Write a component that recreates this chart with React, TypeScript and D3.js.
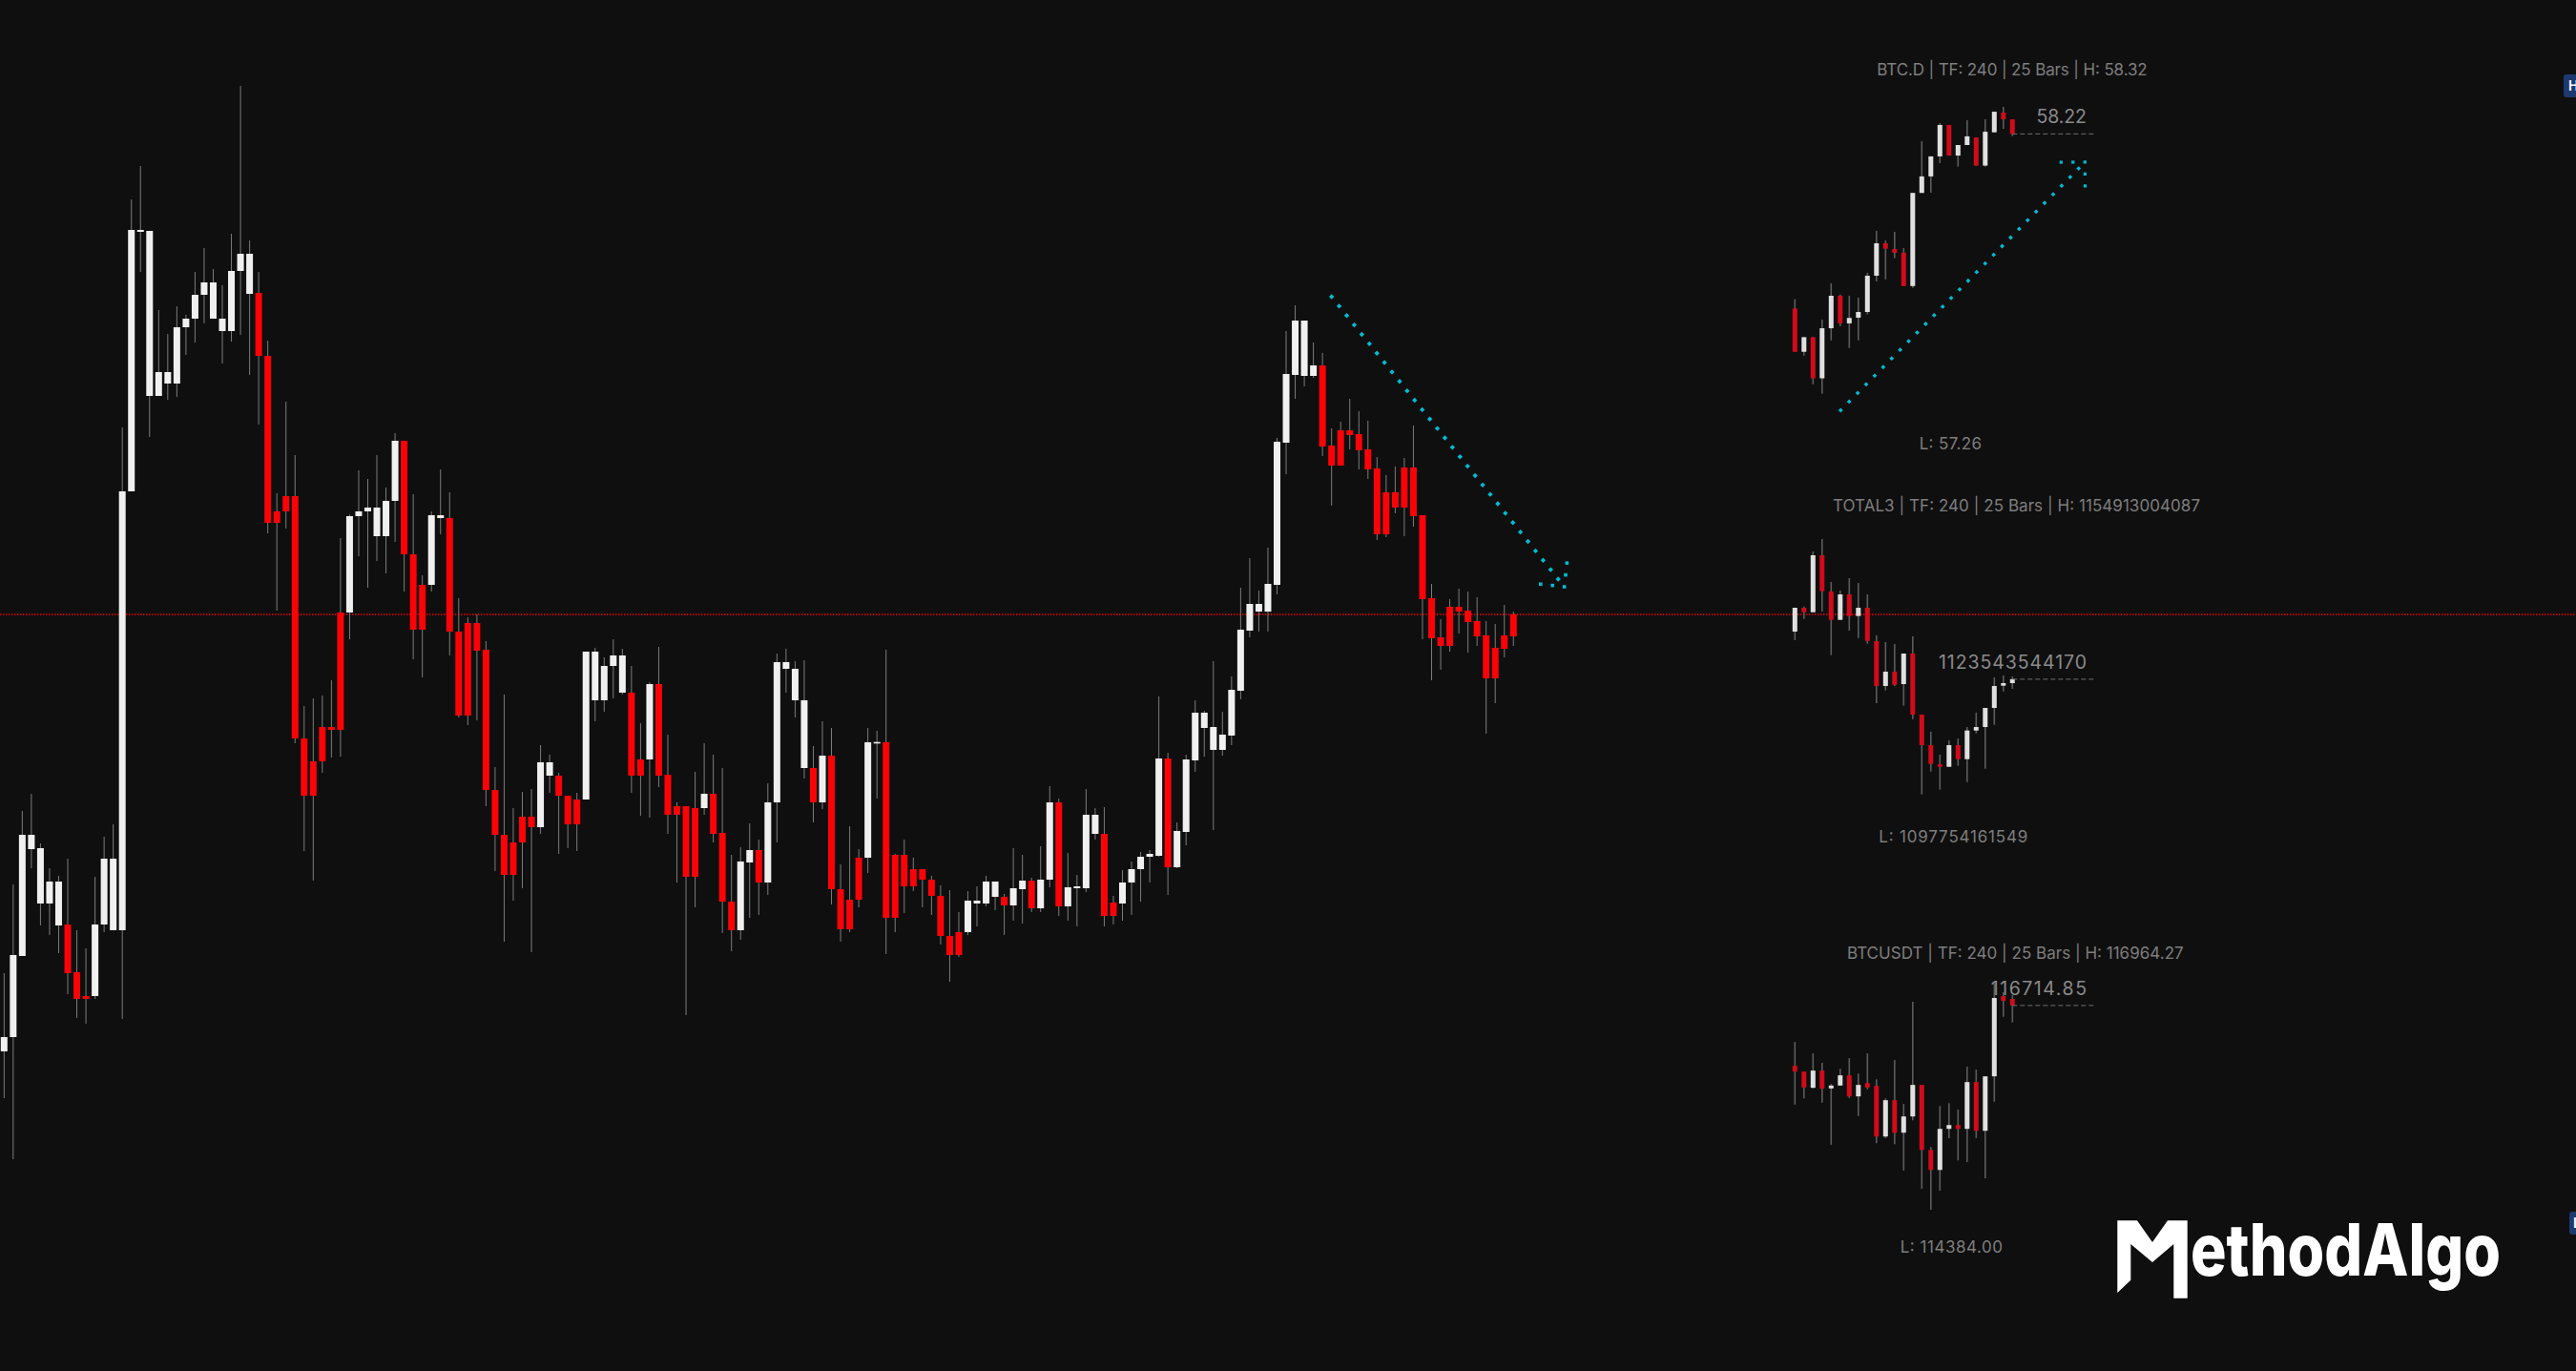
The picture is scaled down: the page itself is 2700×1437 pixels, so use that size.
import React from "react";
import * as d3 from "d3";

// ---------------- main chart data (arbitrary price units) ----------------
const mainOpen = [
  198, 213, 298, 410, 353, 353, 330, 331, 281, 256,
  256, 331, 325, 325, 785, 1057, 885, 885, 898, 898,
  957, 966, 991, 966, 953, 953, 1016, 992, 993, 927,
  764, 780, 780, 526, 502, 538, 538, 658, 658, 759,
  764, 738, 738, 775, 838, 719, 687, 687, 757, 757,
  638, 647, 647, 619, 472, 425, 417, 444, 444, 433,
  487, 487, 466, 462, 462, 566, 566, 602, 574, 574,
  504, 504, 583, 488, 455, 455, 453, 453, 468, 427,
  355, 325, 396, 409, 375, 459, 599, 566, 495, 495,
  459, 508, 368, 357, 401, 401, 521, 522, 404, 404,
  389, 389, 378, 361, 319, 323, 323, 353, 353, 360,
  360, 351, 368, 377, 348, 378, 459, 350, 369, 369,
  426, 426, 354, 353, 375, 389, 402, 403, 505, 391,
  428, 503, 537, 514, 514, 529, 576, 639, 659, 659,
  687, 836, 907, 906, 906, 917, 833, 849, 849, 845,
  829, 809, 784, 784, 810, 810, 760, 673, 632, 664,
  664, 660, 649, 634, 621, 634, 656,
];
const mainHigh = [
  280, 373, 450, 468, 416, 390, 382, 400, 325, 306,
  381, 423, 436, 852, 1091, 1126, 1058, 975, 950, 979,
  970, 1015, 1040, 1018, 1001, 1055, 1210, 1048, 1015, 943,
  783, 879, 823, 560, 568, 571, 587, 736, 761, 807,
  798, 823, 789, 846, 838, 782, 697, 764, 808, 784,
  673, 653, 656, 628, 496, 572, 453, 470, 473, 519,
  509, 490, 466, 469, 617, 621, 611, 630, 620, 602,
  542, 585, 622, 530, 459, 455, 491, 521, 509, 495,
  404, 412, 437, 420, 479, 615, 620, 607, 608, 518,
  544, 537, 394, 434, 410, 537, 534, 619, 405, 420,
  401, 389, 382, 372, 367, 344, 366, 371, 382, 376,
  363, 411, 404, 380, 413, 476, 463, 406, 383, 473,
  453, 454, 361, 388, 397, 407, 409, 570, 511, 438,
  509, 566, 555, 607, 554, 591, 684, 715, 681, 726,
  841, 953, 980, 964, 941, 930, 851, 858, 882, 869,
  859, 821, 802, 811, 820, 854, 760, 688, 651, 672,
  683, 680, 674, 649, 646, 666, 659,
];
const mainLow = [
  149, 85, 298, 390, 330, 320, 301, 258, 233, 227,
  253, 323, 325, 232, 785, 1015, 842, 885, 881, 884,
  928, 941, 961, 966, 919, 942, 949, 907, 855, 741,
  660, 746, 521, 408, 377, 490, 506, 507, 630, 717,
  684, 712, 699, 732, 680, 609, 590, 680, 740, 613,
  548, 540, 545, 455, 387, 313, 356, 369, 302, 426,
  469, 405, 411, 408, 462, 544, 554, 568, 572, 469,
  445, 443, 475, 426, 375, 236, 349, 446, 417, 322,
  303, 315, 338, 341, 362, 417, 574, 548, 484, 438,
  452, 352, 313, 323, 349, 385, 463, 300, 323, 343,
  366, 349, 341, 310, 271, 297, 320, 329, 350, 346,
  320, 335, 332, 344, 344, 370, 340, 335, 329, 365,
  420, 329, 331, 335, 341, 355, 375, 402, 362, 390,
  414, 491, 507, 430, 508, 519, 567, 632, 638, 638,
  677, 803, 882, 895, 904, 822, 770, 812, 829, 808,
  798, 734, 737, 762, 738, 748, 630, 587, 598, 617,
  636, 616, 623, 531, 563, 611, 623,
];
const mainClose = [
  213, 299, 425, 425, 411, 376, 376, 280, 253, 253,
  331, 400, 400, 785, 1059, 1059, 1058, 910, 910, 957,
  966, 991, 1004, 1004, 966, 1016, 1034, 1034, 927, 752,
  752, 764, 526, 466, 466, 502, 535, 535, 759, 764,
  768, 768, 775, 838, 719, 640, 640, 760, 760, 638,
  550, 550, 618, 472, 425, 383, 383, 417, 433, 501,
  501, 466, 436, 436, 617, 617, 602, 613, 613, 487,
  487, 583, 487, 446, 446, 381, 381, 468, 426, 355,
  325, 397, 409, 375, 459, 606, 606, 599, 566, 459,
  508, 368, 326, 326, 357, 522, 522, 338, 338, 371,
  371, 378, 361, 319, 299, 299, 356, 356, 376, 376,
  351, 369, 377, 348, 378, 459, 350, 370, 371, 446,
  446, 340, 340, 375, 389, 402, 405, 505, 391, 429,
  504, 553, 553, 538, 530, 577, 640, 667, 667, 688,
  837, 908, 964, 964, 917, 832, 812, 812, 844, 828,
  808, 740, 740, 768, 768, 759, 672, 631, 623, 623,
  659, 648, 633, 589, 589, 620, 633,
];
const mainRefLevel = 656;
const mainArrowStart = [146.0, 989];
const mainArrowEnd = [171.6, 685];

// ---------------- BTC.D ----------------
const btcdOpen = [57.575, 57.415, 57.469, 57.317, 57.502, 57.622, 57.52, 57.541, 57.562, 57.696, 57.816, 57.795, 57.781, 57.658, 58.002, 58.063, 58.137, 58.253, 58.14, 58.179, 58.207, 58.103, 58.226, 58.299, 58.274];
const btcdHigh = [57.61, 57.469, 57.469, 57.534, 57.668, 57.626, 57.622, 57.615, 57.707, 57.862, 57.826, 57.858, 57.798, 58.002, 58.193, 58.137, 58.26, 58.253, 58.179, 58.271, 58.207, 58.274, 58.302, 58.32, 58.274];
const btcdLow = [57.415, 57.401, 57.295, 57.26, 57.457, 57.509, 57.429, 57.457, 57.553, 57.675, 57.683, 57.761, 57.658, 57.651, 58.002, 58.003, 58.112, 58.14, 58.099, 58.179, 58.103, 58.099, 58.226, 58.239, 58.212];
const btcdClose = [57.415, 57.469, 57.317, 57.502, 57.622, 57.52, 57.54, 57.562, 57.696, 57.816, 57.796, 57.781, 57.658, 58.002, 58.063, 58.137, 58.253, 58.14, 58.179, 58.211, 58.103, 58.228, 58.302, 58.274, 58.22];
const btcdStats = [58.32, 57.26, 58.22]; // high, low, last
const btcdArrowStart = [5.05, 57.199];
const btcdArrowEnd = [32.0, 58.116];

// ---------------- TOTAL3 (billions) ----------------
const total3Open = [1134.199, 1139.538, 1138.541, 1151.283, 1143.168, 1136.833, 1142.527, 1137.687, 1139.538, 1132.064, 1122.027, 1125.23, 1122.454, 1129.288, 1115.62, 1108.787, 1104.516, 1103.947, 1108.787, 1105.655, 1112.062, 1112.844, 1117.115, 1122.098, 1122.668];
const total3High = [1139.538, 1139.822, 1152.137, 1154.913, 1145.303, 1143.382, 1146.158, 1145.09, 1142.527, 1133.345, 1131.85, 1131.423, 1129.288, 1133.131, 1115.62, 1111.777, 1106.652, 1109.855, 1110.282, 1112.844, 1116.047, 1117.115, 1123.949, 1124.376, 1124.162];
const total3Low = [1132.277, 1137.046, 1138.541, 1138.683, 1128.932, 1136.833, 1134.413, 1132.775, 1131.494, 1118.183, 1121.031, 1122.027, 1117.614, 1114.624, 1097.754, 1102.879, 1098.822, 1103.947, 1104.161, 1100.53, 1111.421, 1103.52, 1113.343, 1120.817, 1121.386];
const total3Close = [1139.538, 1138.541, 1151.283, 1143.239, 1136.833, 1142.527, 1137.687, 1139.538, 1132.135, 1122.027, 1125.23, 1122.312, 1129.288, 1115.62, 1108.787, 1104.588, 1103.947, 1108.787, 1105.655, 1112.062, 1112.844, 1117.115, 1122.027, 1122.668, 1123.544];
const total3Stats = [1154913004087, 1097754161549, 1123543544170];

// ---------------- BTCUSDT ----------------
const btcusdtOpen = [116026.65, 115961.23, 115775.89, 115972.13, 115768.62, 115801.33, 115917.62, 115677.76, 115830.4, 115797.69, 115219.85, 115634.15, 115263.46, 115448.81, 115808.59, 115067.22, 114838.26, 115307.07, 115350.69, 115307.07, 115841.3, 115285.27, 115906.72, 116822.54, 116789.83];
const btcusdtHigh = [116299.21, 115961.23, 116168.38, 116059.35, 115819.5, 115993.94, 116113.87, 115939.43, 116168.38, 115874.01, 115655.96, 116092.06, 115590.54, 116757.12, 115808.59, 115099.93, 115568.74, 115601.44, 115528.76, 116015.74, 115983.04, 115906.72, 116964.27, 116866.15, 116833.44];
const btcusdtLow = [115583.27, 115655.96, 115768.62, 115605.08, 115125.36, 115801.33, 115659.59, 115452.44, 115757.72, 115143.54, 115201.68, 115132.63, 114830.99, 115405.2, 114623.85, 114384.0, 114602.04, 115201.68, 114947.29, 114929.12, 115201.68, 114743.77, 115615.98, 116586.31, 116520.9];
const btcusdtClose = [115961.23, 115779.52, 115972.13, 115764.98, 115801.33, 115917.62, 115677.76, 115808.59, 115779.52, 115219.85, 115634.15, 115263.46, 115448.81, 115808.59, 115067.22, 114838.26, 115307.07, 115350.69, 115307.07, 115841.3, 115285.27, 115906.72, 116800.73, 116768.02, 116714.85];
const btcusdtStats = [116964.27, 114384.0, 116714.85];

const panelNames = ["BTC.D", "TOTAL3", "BTCUSDT"];
const panelTF = "240";
const panelBars = 25;
const logoText = "ethodAlgo";

// ---------------- styling ----------------
const W = 2700;
const H = 1437;
const BG = "#0f0f0f";
const MAIN_UP = "#f0f0f0";
const MAIN_DN = "#fb0207";
const MINI_UP = "#e0e0e0";
const MINI_DN = "#d20a1a";
const CYAN = "#00bcd4";
const FONT = "Inter, 'Noto Sans', sans-serif";

type Scale = (v: number) => number;

function candles(
  key: string,
  o: number[], h: number[], l: number[], c: number[],
  x: Scale, y: Scale, bw: number,
  upFill: string, dnFill: string, wickCol: string, wickW: number
) {
  return o.map((_, i) => {
    const up = c[i] >= o[i];
    const cx = x(i);
    const yo = y(o[i]);
    const yc = y(c[i]);
    let top = Math.min(yo, yc);
    let hgt = Math.abs(yo - yc);
    if (hgt < 1.6) {
      top = (yo + yc) / 2 - 0.8;
      hgt = 1.6;
    }
    return (
      <g key={key + i}>
        <line x1={cx} x2={cx} y1={y(h[i])} y2={y(l[i])} stroke={wickCol} strokeWidth={wickW} />
        <rect x={cx - bw / 2} y={top} width={bw} height={hgt} fill={up ? upFill : dnFill} />
      </g>
    );
  });
}

function dottedArrow(key: string, x0: number, y0: number, x1: number, y1: number, step: number, size: number) {
  const dx = x1 - x0;
  const dy = y1 - y0;
  const len = Math.hypot(dx, dy);
  const ux = dx / len;
  const uy = dy / len;
  const n = Math.floor((len - 4) / step);
  const marks: React.ReactNode[] = [];
  for (let k = 0; k <= n; k++) {
    const px = x0 + ux * step * k;
    const py = y0 + uy * step * k;
    marks.push(
      <rect key={key + "d" + k} x={px - size / 2} y={py - size / 2} width={size} height={size}
        fill={CYAN} transform={`rotate(45 ${px} ${py})`} />
    );
  }
  const bx = -ux;
  const by = -uy;
  const c = Math.SQRT1_2;
  const arms = [
    [c * bx - c * by, c * bx + c * by],
    [c * bx + c * by, -c * bx + c * by],
  ];
  const sq = size * 0.95;
  marks.push(<rect key={key + "tip"} x={x1 - sq / 2} y={y1 - sq / 2} width={sq} height={sq} fill={CYAN} />);
  arms.forEach((a, ai) => {
    [12.5, 25].forEach((d, di) => {
      const px = x1 + a[0] * d;
      const py = y1 + a[1] * d;
      marks.push(<rect key={key + "a" + ai + di} x={px - sq / 2} y={py - sq / 2} width={sq} height={sq} fill={CYAN} />);
    });
  });
  return marks;
}

type PanelLayout = {
  top: number; bottom: number; titleX: number; titleY: number; titleW: number;
  lowX: number; lowY: number; lowW: number; lastW: number;
};

function miniPanel(
  key: string, name: string,
  o: number[], h: number[], l: number[], c: number[],
  stats: number[], unit: number, fmt: (v: number) => string, lay: PanelLayout
) {
  const x = d3.scaleLinear().domain([0, panelBars - 1]).range([1881.3, 2109.3]);
  const y = d3.scaleLinear().domain([stats[1] / unit, stats[0] / unit]).range([lay.bottom, lay.top]);
  const lastY = y(stats[2] / unit);
  return (
    <g key={key}>
      <text x={lay.titleX} y={lay.titleY} textAnchor="middle" fontFamily={FONT} fontSize={17} fill="#7e7e7e"
        textLength={lay.titleW}>
        {`${name} | TF: ${panelTF} | ${panelBars} Bars | H: ${fmt(stats[0])}`}
      </text>
      {candles(key, o, h, l, c, x, y, 5, MINI_UP, MINI_DN, "#5c5c5c", 1.6)}
      <line x1={x(panelBars - 1)} x2={2195} y1={lastY} y2={lastY} stroke="#6e6e6e" strokeWidth={1} strokeDasharray="5 3" />
      <text x={2187} y={lastY - 11} textAnchor="end" fontFamily={FONT} fontSize={19.5} fill="#8a8a8a"
        textLength={lay.lastW}>
        {fmt(stats[2])}
      </text>
      <text x={lay.lowX} y={lay.lowY} textAnchor="middle" fontFamily={FONT} fontSize={17} fill="#7e7e7e"
        textLength={lay.lowW}>
        {`L: ${fmt(stats[1])}`}
      </text>
    </g>
  );
}

export default function App() {
  const mx = d3.scaleLinear().domain([0, mainOpen.length - 1]).range([4.3, 4.3 + 9.53 * (mainOpen.length - 1)]);
  const my = d3.scaleLinear().domain([0, 1300]).range([1300, 0]);

  const bx = d3.scaleLinear().domain([0, panelBars - 1]).range([1881.3, 2109.3]);
  const by = d3.scaleLinear().domain([btcdStats[1], btcdStats[0]]).range([412.7, 112]);

  const f2 = (v: number) => v.toFixed(2);
  const f0 = (v: number) => String(Math.round(v));

  const mPts: [number, number][] = [
    [2219.3, 1279.3], [2240, 1279.3], [2256, 1302], [2272, 1279.3], [2292.7, 1279.3],
    [2292.7, 1360.7], [2278.3, 1360.7], [2278.3, 1304], [2256, 1323], [2233.3, 1304],
    [2233.3, 1341.7], [2219.3, 1355],
  ];

  return (
    <svg width={W} height={H} style={{ position: "absolute", left: 0, top: 0, display: "block" }}>
      <rect x={0} y={0} width={W} height={H} fill={BG} />

      <line x1={0} x2={W} y1={my(mainRefLevel)} y2={my(mainRefLevel)} stroke="#ff0000" strokeWidth={1.4} strokeDasharray="1.4 1.6" />

      {candles("m", mainOpen, mainHigh, mainLow, mainClose, mx, my, 7, MAIN_UP, MAIN_DN, "#7c7c7c", 1)}

      {dottedArrow("ma", mx(mainArrowStart[0]), my(mainArrowStart[1]), mx(mainArrowEnd[0]), my(mainArrowEnd[1]), 12.65, 3.8)}

      {miniPanel("p0", panelNames[0], btcdOpen, btcdHigh, btcdLow, btcdClose, btcdStats, 1, f2,
        { top: 112, bottom: 412.7, titleX: 2109, titleY: 79.3, titleW: 283.4, lowX: 2044.3, lowY: 471, lowW: 65.3, lastW: 52.4 })}
      {dottedArrow("ba", bx(btcdArrowStart[0]), by(btcdArrowStart[1]), bx(btcdArrowEnd[0]), by(btcdArrowEnd[1]), 12.7, 3.4)}
      {miniPanel("p1", panelNames[1], total3Open, total3High, total3Low, total3Close, total3Stats, 1e9, f0,
        { top: 565, bottom: 832.7, titleX: 2113.5, titleY: 535.7, titleW: 385, lowX: 2047.3, lowY: 883.3, lowW: 156, lastW: 155 })}
      {miniPanel("p2", panelNames[2], btcusdtOpen, btcusdtHigh, btcusdtLow, btcusdtClose, btcusdtStats, 1, f2,
        { top: 1031, bottom: 1268, titleX: 2112.3, titleY: 1005, titleW: 352.7, lowX: 2045.3, lowY: 1312.7, lowW: 107.3, lastW: 100.3 })}

      <rect x={2687} y={78} width={24} height={24} rx={3} fill="#1d3a6e" />
      <text x={2692} y={95} fontFamily={FONT} fontSize={14} fontWeight={600} fill="#ffffff">H</text>
      <rect x={2693} y={1270} width={20} height={24} rx={3} fill="#1d3a6e" />
      <text x={2697} y={1287} fontFamily={FONT} fontSize={14} fontWeight={600} fill="#ffffff">L</text>

      <polygon points={mPts.map((p) => p.join(",")).join(" ")} fill="#ffffff" />
      <text x={2296} y={1337.3} fontFamily="Inter, 'Open Sans', sans-serif" fontWeight={800} fontSize={76}
        fill="#ffffff" textLength={325} lengthAdjust="spacingAndGlyphs">{logoText}</text>
    </svg>
  );
}
